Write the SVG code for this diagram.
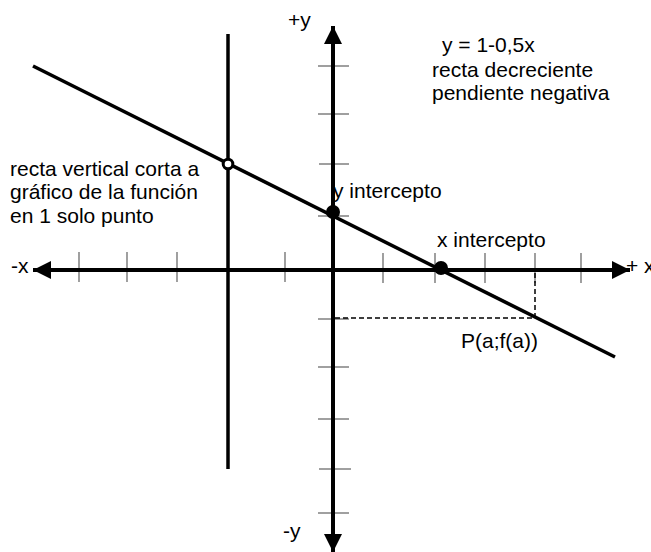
<svg xmlns="http://www.w3.org/2000/svg" width="651" height="552" viewBox="0 0 651 552">
<defs>
<style>
text{font-family:"Liberation Sans",Arial,sans-serif;font-size:21px;fill:#000}
.axis{stroke:#000;stroke-width:4;fill:none}
.tick{stroke:#888;stroke-width:1.6}
.fn{stroke:#000;stroke-width:3.5;fill:none}
.dash{stroke:#000;stroke-width:1.5;stroke-dasharray:5 3;fill:none}
.dot{fill:#000}
.open{fill:#fff;stroke:#000;stroke-width:3}
</style>
<marker id="ah" markerUnits="userSpaceOnUse" markerWidth="18" markerHeight="18" viewBox="0 0 16 16" refX="16" refY="8" orient="auto">
<path d="M0,0 L16,8 L0,16 Z" fill="#000"/>
</marker>
</defs>
<rect width="651" height="552" fill="#fff"/>
<g id="ticks">
<g class="tick">
<line x1="79" y1="252" x2="79" y2="282"/>
<line x1="127" y1="252" x2="127" y2="282"/>
<line x1="177" y1="252" x2="177" y2="282"/>
<line x1="285" y1="252" x2="285" y2="282"/>
<line x1="383" y1="253" x2="383" y2="283"/>
<line x1="435" y1="253" x2="435" y2="283"/>
<line x1="485" y1="253" x2="485" y2="283"/>
<line x1="535" y1="253" x2="535" y2="283"/>
<line x1="581" y1="253" x2="581" y2="283"/>
<line x1="318" y1="66" x2="349" y2="66"/>
<line x1="318" y1="114" x2="349" y2="114"/>
<line x1="319" y1="164" x2="349" y2="164"/>
<line x1="318" y1="216" x2="349" y2="216"/>
<line x1="318" y1="319" x2="349" y2="319"/>
<line x1="318" y1="367" x2="349" y2="367"/>
<line x1="318" y1="419" x2="349" y2="419"/>
<line x1="319" y1="469" x2="351" y2="469"/>
<line x1="318" y1="513" x2="349" y2="513"/>
</g>
</g>
<g id="connectors">
<line id="x-axis-pos" class="axis" x1="333" y1="270" x2="630" y2="270" marker-end="url(#ah)"/>
<line id="x-axis-neg" class="axis" x1="333" y1="270" x2="33" y2="270" marker-end="url(#ah)"/>
<line id="y-axis-pos" class="axis" x1="333" y1="270" x2="333" y2="26" marker-end="url(#ah)"/>
<line id="y-axis-neg" class="axis" x1="333" y1="270" x2="333" y2="552" marker-end="url(#ah)"/>
<line id="vertical-line" class="fn" x1="228" y1="34" x2="228" y2="469"/>
<line id="function-line" class="fn" x1="33" y1="66" x2="615" y2="357"/>
<polyline id="proj" class="dash" points="335,318 535,318 535,271"/>
</g>
<g id="open-point"><circle class="open" cx="228" cy="164" r="4.8"/></g>
<g id="y-intercept"><circle class="dot" cx="333" cy="212" r="7"/><text x="333" y="198">y intercepto</text></g>
<g id="x-intercept"><circle class="dot" cx="441" cy="268" r="7"/><text x="437" y="247">x intercepto</text></g>
<g id="point-label"><text x="461" y="348">P(a;f(a))</text></g>
<g id="axis-labels">
<text x="288" y="27">+y</text>
<text x="283" y="538">-y</text>
<text x="11" y="273">-x</text>
<text x="626" y="273">+ x</text>
</g>
<g id="equation">
<text x="442" y="52">y = 1-0,5x</text>
<text x="432" y="77">recta decreciente</text>
<text x="432" y="100">pendiente negativa</text>
</g>
<g id="vertical-note">
<text x="10" y="176">recta vertical corta a</text>
<text x="10" y="199">gráfico de la función</text>
<text x="10" y="223">en 1 solo punto</text>
</g>
</svg>
